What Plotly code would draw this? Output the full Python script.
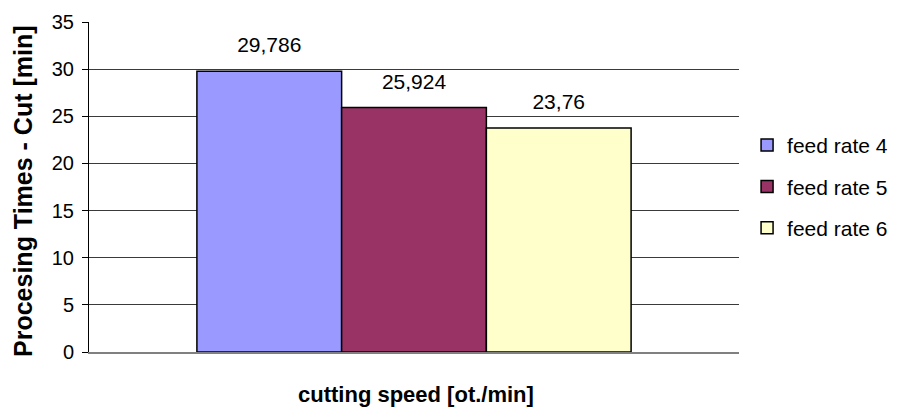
import plotly.graph_objects as go

categories = [""]
series_names = ["feed rate 4", "feed rate 5", "feed rate 6"]
series_values = [[29.786], [25.924], [23.76]]
series_labels = [["29,786"], ["25,924"], ["23,76"]]
colors = ["#9999FF", "#993366", "#FFFFCC"]
y_ticks = [0, 5, 10, 15, 20, 25, 30, 35]
x_title = "cutting speed [ot./min]"
y_title = "Procesing Times - Cut [min]"

FONT = "Liberation Sans, Arial, sans-serif"

fig = go.Figure()
for i, (name, vals, col) in enumerate(zip(series_names, series_values, colors)):
    fig.add_trace(go.Bar(
        x=categories, y=vals, name=name,
        marker=dict(color=col, line=dict(color="black", width=1.5)),
        offsetgroup=str(i), alignmentgroup="g", legendgroup=str(i),
    ))
for i, (vals, labs) in enumerate(zip(series_values, series_labels)):
    fig.add_trace(go.Scatter(
        x=categories, y=vals, mode="markers+text", text=labs,
        textposition="top center",
        textfont=dict(family=FONT, size=21, color="black"),
        marker=dict(size=20, color="rgba(0,0,0,0)"),
        offsetgroup=str(i), alignmentgroup="g",
        showlegend=False, hoverinfo="skip", cliponaxis=False,
    ))

fig.add_annotation(
    text="<b>" + x_title + "</b>", xref="paper", yref="paper",
    x=0.503, y=-0.1303, xanchor="center", yanchor="middle", showarrow=False,
    font=dict(family=FONT, size=22, color="black"),
)
fig.add_annotation(
    text="<b>" + y_title + "</b>", xref="paper", yref="paper", textangle=-90,
    x=-0.1008, y=0.4894, xanchor="center", yanchor="middle", showarrow=False,
    font=dict(family=FONT, size=25, color="black"),
)

fig.update_layout(
    width=899, height=407,
    margin=dict(l=89, r=160, t=22, b=55),
    paper_bgcolor="white", plot_bgcolor="white",
    barmode="group", bargap=0.332, bargroupgap=0,
    scattermode="group", scattergap=0.332,
    font=dict(family=FONT, color="black"),
    showlegend=True,
    legend=dict(
        xref="container", yref="container",
        x=0.831, y=0.693, xanchor="left", yanchor="top",
        font=dict(family=FONT, size=21, color="black"),
        tracegroupgap=11, traceorder="grouped",
        bgcolor="rgba(0,0,0,0)",
    ),
    xaxis=dict(
        showticklabels=False, ticks="", showgrid=False,
        showline=True, linecolor="#808080", linewidth=1.5,
        zeroline=False, automargin=False,
    ),
    yaxis=dict(
        range=[0, 35], tickvals=y_ticks, ticktext=[str(t) for t in y_ticks],
        showgrid=True, gridcolor="#3a3a3a", gridwidth=1,
        showline=True, linecolor="black", linewidth=1,
        ticks="outside", ticklen=6, tickcolor="black",
        ticklabelstandoff=4, automargin=False,
        tickfont=dict(family=FONT, size=20, color="black"),
        zeroline=False,
    ),
)

fig.write_html(
    "out.html",
    config={"displayModeBar": False},
    post_script="document.body.style.margin='0';document.body.style.overflow='hidden';",
)
